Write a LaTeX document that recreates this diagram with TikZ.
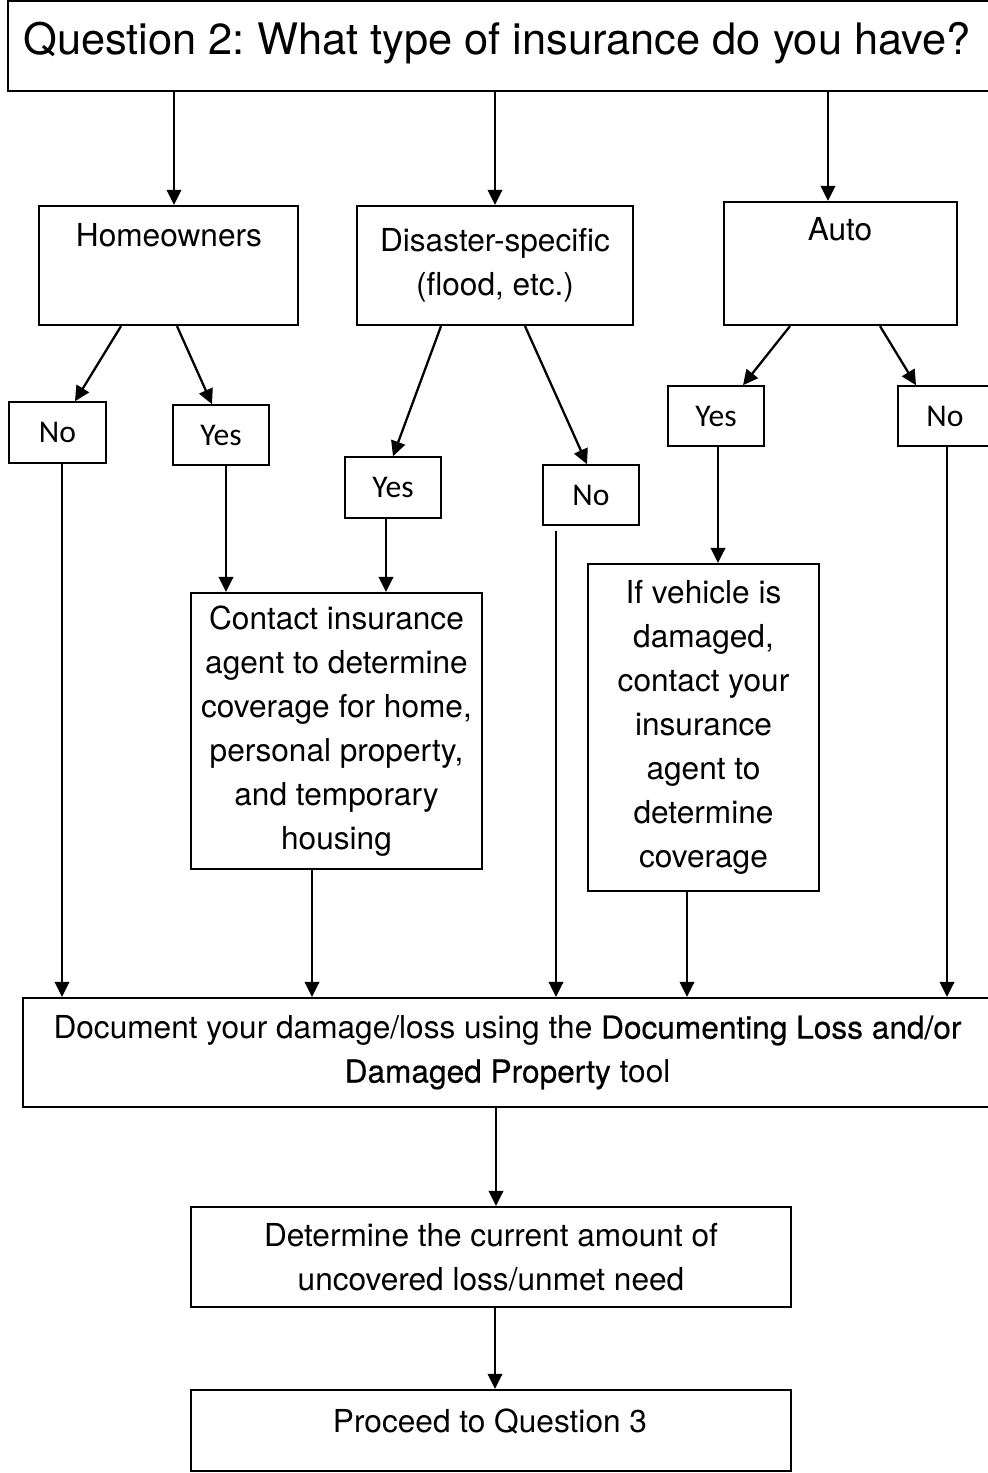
\documentclass[tikz,border=0pt]{standalone}
\usepackage{fontspec}
\setmainfont{TeX Gyre Heros}
\newfontfamily\answerfont{Carlito}
\newfontfamily\strongfont[FakeBold=0.5]{TeX Gyre Heros}
\usetikzlibrary{arrows.meta,fit,calc}
\frenchspacing

\tikzset{
  box/.style={draw, line width=1.3pt, inner sep=0pt, align=center, font=\fontsize{18}{25}\selectfont},
  answer/.style={draw, line width=0.9pt, inner sep=0pt, minimum width=1.92cm, minimum height=1.2cm, font=\answerfont\fontsize{18}{22}\selectfont},
  txt/.style={inner sep=0pt, align=center, font=\fontsize{18}{25}\selectfont},
  arr/.style={line width=1.3pt, -{Triangle[length=3mm,width=2.9mm]}},
}

\begin{document}
\begin{tikzpicture}[x=0.02cm,y=-0.02cm]
\useasboundingbox (0,0) rectangle (987,1473);

% question
\node[box, fit={(8,1) (992,91)}] (title) {};
\node[txt, anchor=base, font=\fontsize{24.7}{30}\selectfont] (titlet) at (497,55) {Question 2: What type of insurance do you have?};

% types of insurance
\node[box, fit={(39,206) (298,325)}] (home) {};
\node[txt, anchor=base] (homet) at (169,246) {Homeowners};
\node[box, minimum width=5.52cm, minimum height=2.38cm] (dis) at (495,265.5) {Disaster-specific\\(flood, etc.)};
\node[box, fit={(724,202) (957,325)}] (auto) {};
\node[txt, anchor=base] (autot) at (840,240) {Auto};

% answers
\node[answer, minimum height=1.22cm, minimum width=1.94cm] (hno) at (57.5,432.5) {No};
\node[answer] (hyes) at (221,435) {Yes};
\node[answer, minimum height=1.22cm] (dyes) at (393,487.5) {Yes};
\node[answer] (dno) at (591,495) {No};
\node[answer] (ayes) at (716,416) {Yes};
\node[answer, minimum width=1.88cm] (ano) at (945,416) {No};

% steps
\node[box, minimum width=5.82cm, minimum height=5.52cm] (contact) at (336.5,731) {Contact insurance\\agent to determine\\coverage for home,\\personal property,\\and temporary\\housing};
\node[box, minimum width=4.62cm, minimum height=6.54cm] (vehicle) at (703.5,727.5) {If vehicle is\\damaged,\\contact your\\insurance\\agent to\\determine\\coverage};
\node[box, minimum width=19.38cm, minimum height=2.18cm] (doc) at (507.5,1052.5) {Document your damage/loss using the {\strongfont Documenting Loss and/or}\\{\strongfont Damaged Property} tool};
\node[box, minimum width=12cm, minimum height=2cm] (det) at (491,1257) {Determine the current amount of\\uncovered loss/unmet need};
\node[box, fit={(191,1390) (791,1471)}] (proc) {};
\node[txt, anchor=base] (proct) at (490,1432) {Proceed to Question 3};

% arrows from the question
\coordinate (q1) at ($(home.north)+(5.5,0)$);
\coordinate (q3) at ($(auto.north)+(-12.5,0)$);
\draw[arr] (q1 |- title.south) -- (q1);
\draw[arr] (dis.north |- title.south) -- (dis.north);
\draw[arr] (q3 |- title.south) -- (q3);

% yes / no
\draw[arr] ($(home.south)+(-47.5,0)$) -- ($(hno.north)+(17.5,0)$);
\draw[arr] ($(home.south)+(8.5,0)$) -- ($(hyes.north)+(-9,0)$);
\draw[arr] ($(dis.south)+(-54,0)$) -- (dyes.north);
\draw[arr] ($(dis.south)+(30,0)$) -- ($(dno.north)+(-4,0)$);
\draw[arr] ($(auto.south)+(-50.5,0)$) -- ($(ayes.north)+(27,0)$);
\draw[arr] ($(auto.south)+(39.5,0)$) -- ($(ano.north)+(-29,0)$);

% down to the steps
\coordinate (v1) at ($(hno.south)+(4.5,0)$);
\coordinate (v2) at ($(hyes.south)+(5,0)$);
\coordinate (v3) at ($(dyes.south)+(-7,0)$);
\coordinate (v4) at ($(dno.south)+(-35,5)$);
\coordinate (v5) at ($(ayes.south)+(2,0)$);
\coordinate (v6) at ($(ano.south)+(2,0)$);
\coordinate (v7) at ($(contact.south)+(-24.5,0)$);
\coordinate (v8) at ($(vehicle.south)+(-16.5,0)$);
\coordinate (v9) at ($(doc.south)+(-11.5,0)$);
\coordinate (v10) at ($(det.south)+(4,0)$);
\draw[arr] (v1) -- (v1 |- doc.north);
\draw[arr] (v2) -- (v2 |- contact.north);
\draw[arr] (v3) -- (v3 |- contact.north);
\draw[arr] (v4) -- (v4 |- doc.north);
\draw[arr] (v5) -- (v5 |- vehicle.north);
\draw[arr] (v6) -- (v6 |- doc.north);
\draw[arr] (v7) -- (v7 |- doc.north);
\draw[arr] (v8) -- (v8 |- doc.north);
\draw[arr] (v9) -- (v9 |- det.north);
\draw[arr] (v10) -- (v10 |- proc.north);
\end{tikzpicture}
\end{document}
